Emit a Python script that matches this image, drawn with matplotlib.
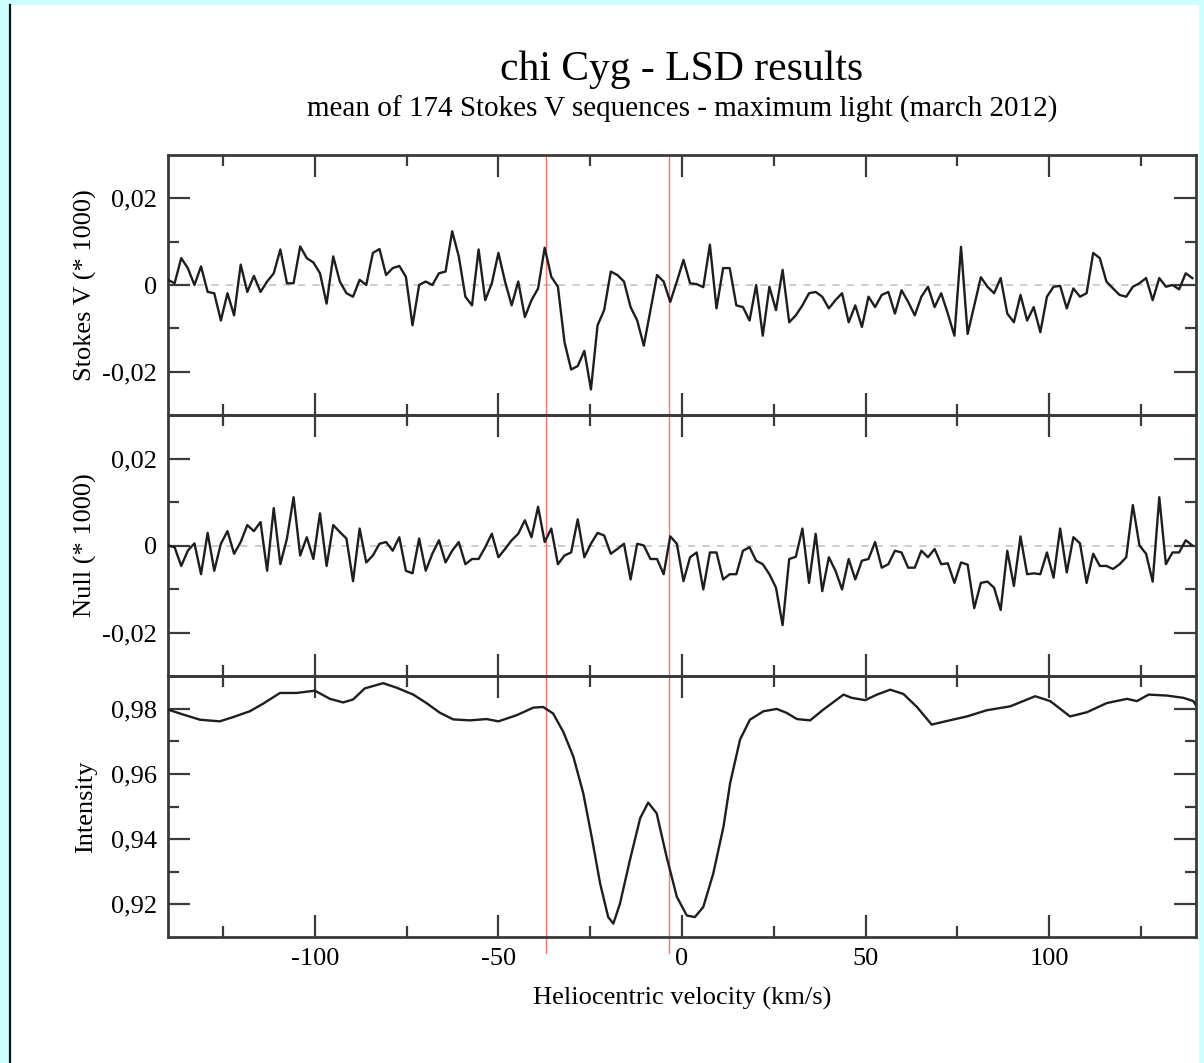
import numpy as np
import matplotlib
matplotlib.use('Agg')
import matplotlib.pyplot as plt
from matplotlib.patches import Rectangle
from matplotlib.lines import Line2D
from matplotlib.ticker import FixedLocator, FuncFormatter

plt.rcParams['font.family'] = ['Liberation Serif', 'DejaVu Serif']

# velocity grid of the LSD profiles (km/s)
vel = np.linspace(-140, 139, 156)

stokes_v = [
    0.0012, 0.0004, 0.0062, 0.0039, 0.0, 0.0043, -0.0016, -0.0019, -0.0082, -0.0019,
    -0.0070, 0.0047, -0.0016, 0.0021, -0.0016, 0.0008, 0.0027, 0.0082, 0.0004, 0.0004,
    0.0089, 0.0062, 0.0052, 0.0027, -0.0043, 0.0066, 0.0008, -0.0019, -0.0027, 0.0012,
    0.0, 0.0074, 0.0083, 0.0023, 0.0039, 0.0044, 0.0019, -0.0093, 0.0, 0.0008,
    0.0, 0.0027, 0.0031, 0.0124, 0.0066, -0.0027, -0.0047, 0.0082, -0.0035, 0.0004,
    0.0074, 0.0008, -0.0047, 0.0008, -0.0074, -0.0035, -0.0008, 0.0086,
    0.0019, -0.0004, -0.0132, -0.0195, -0.0187, -0.0152, -0.0241, -0.0093, -0.0058, 0.0031,
    0.0023, 0.0008, -0.0051, -0.0082, -0.0140, -0.0058, 0.0023, 0.0008, -0.0039, 0.0008,
    0.0058, 0.0004, 0.0002, -0.0005, 0.0093, -0.0054, 0.0039, 0.0039, -0.0047, -0.0051,
    -0.0082, 0.0, -0.0117, -0.0004, -0.0058, 0.0035, -0.0086, -0.0070, -0.0047, -0.0019,
    -0.0016, -0.0027, -0.0054, -0.0035, -0.0019, -0.0086, -0.0047, -0.0097, -0.0027, -0.0051,
    -0.0023, -0.0016, -0.0066, -0.0012, -0.0039, -0.0070, -0.0027, -0.0004, -0.0051, -0.0019,
    -0.0066, -0.0117, 0.0088, -0.0113, -0.0047, 0.0018, -0.0004, -0.0019, 0.0016, -0.0066,
    -0.0086, -0.0023, -0.0082, -0.0051, -0.0109, -0.0027, -0.0004, -0.0002, -0.0054, -0.0008,
    -0.0027, -0.0019, 0.0074, 0.0062, 0.0008, -0.0008, -0.0023, -0.0027, -0.0004, 0.0004,
    0.0016, -0.0035, 0.0016, -0.0004, 0.0, -0.0010, 0.0027, 0.0016,
]

null = [
    0.0, -0.0004, -0.0047, -0.0012, 0.0005, -0.0066, 0.0029, -0.0058, 0.0004, 0.0033,
    -0.0019, 0.0008, 0.0047, 0.0033, 0.0054, -0.0058, 0.0086, -0.0043, 0.0016, 0.0111,
    -0.0023, 0.0019, -0.0031, 0.0074, -0.0047, 0.0047, 0.0031, 0.0016, -0.0082, 0.0039,
    -0.0039, -0.0023, 0.0004, 0.0008, -0.0012, 0.0019, -0.0058, -0.0064, 0.0016, -0.0058,
    -0.0019, 0.0012, -0.0039, -0.0012, 0.0008, -0.0043, -0.0031, -0.0031, -0.0004, 0.0027,
    -0.0027, -0.0008, 0.0012, 0.0027, 0.0058, 0.0019, 0.0089, 0.0008,
    0.0039, -0.0043, -0.0023, -0.0016, 0.0060, -0.0027, 0.0004, 0.0029, 0.0023, -0.0019,
    -0.0008, 0.0004, -0.0078, 0.0004, 0.0, -0.0031, -0.0031, -0.0066, 0.0021, 0.0004,
    -0.0082, -0.0027, -0.0016, -0.0101, -0.0016, -0.0016, -0.0078, -0.0066, -0.0066, -0.0012,
    -0.0004, -0.0035, -0.0043, -0.0066, -0.0097, -0.0183, -0.0031, -0.0026, 0.0039, -0.0086,
    0.0027, -0.0105, -0.0027, -0.0058, -0.0101, -0.0031, -0.0078, -0.0035, -0.0031, 0.0008,
    -0.0051, -0.0043, -0.0012, -0.0016, -0.0051, -0.0051, -0.0012, -0.0027, -0.0008, -0.0043,
    -0.0041, -0.0086, -0.0039, -0.0044, -0.0144, -0.0086, -0.0083, -0.0097, -0.0148, -0.0012,
    -0.0093, 0.0021, -0.0066, -0.0064, -0.0066, -0.0016, -0.0074, 0.0039, -0.0062, 0.0019,
    0.0005, -0.0086, -0.0019, -0.0047, -0.0047, -0.0054, -0.0043, -0.0027, 0.0093, 0.0,
    -0.0019, -0.0083, 0.0111, -0.0043, -0.0016, -0.0016, 0.0012, 0.0,
]

vel_i = [-140, -135.9, -131.3, -125.9, -122, -117.7, -114.1, -109.5, -105, -100,
         -95.9, -92.3, -89.6, -86.4, -81.4, -77.7, -73.2, -69.6, -65.9, -62.3,
         -57.8, -53.2, -50, -45, -40.5, -37.8, -35.1, -32.3, -29.6, -26.9,
         -24.6, -22.3, -20.1, -18.7, -16.9, -14.2, -11.4, -9.2, -6.9, -4.2,
         -1.4, 1.3, 3.5, 5.8, 8.5, 11.3, 13.1, 15.8, 18.5, 22.2,
         25.8, 28.5, 31.3, 34.9, 38.5, 44, 46.2, 49.9, 53.1, 56.7,
         60.3, 64, 68, 72.1, 77.6, 83, 89.4, 96.2, 100.3, 105.7,
         110.3, 115.7, 121.2, 123.9, 127.1, 132.1, 136.6, 139.3, 140]
intensity = [0.9797, 0.9782, 0.9766, 0.9761, 0.9775, 0.9792, 0.9815, 0.9848, 0.9848, 0.9855,
             0.9830, 0.9819, 0.9828, 0.9862, 0.9878, 0.9864, 0.9843, 0.9817, 0.9787, 0.9767,
             0.9764, 0.9768, 0.9761, 0.9780, 0.9803, 0.9805, 0.9785, 0.9728, 0.9653, 0.9541,
             0.9407, 0.9264, 0.9161, 0.9141, 0.9202, 0.9335, 0.9464, 0.9512, 0.9479, 0.9346,
             0.9223, 0.9166, 0.9161, 0.9192, 0.9294, 0.9438, 0.9571, 0.9705, 0.9766, 0.9792,
             0.9799, 0.9787, 0.9768, 0.9764, 0.9797, 0.9843, 0.9833, 0.9826, 0.9843, 0.9858,
             0.9845, 0.9805, 0.9751, 0.9762, 0.9776, 0.9795, 0.9807, 0.9838, 0.9823, 0.9776,
             0.9789, 0.9817, 0.9830, 0.9823, 0.9843, 0.9840, 0.9833, 0.9823, 0.9810]

red_lines = [-37, -3.5]

fig = plt.figure(figsize=(12.04, 10.63), dpi=100, facecolor='#ccffff')
W, H = 1204.0, 1063.0
fig.patches.append(Rectangle((10 / W, 0), 1189 / W, 1 - 5 / H, transform=fig.transFigure,
                             facecolor='white', edgecolor='none', zorder=-10))
fig.lines.append(Line2D([9.5 / W, 9.5 / W], [0, 1 - 5 / H], transform=fig.transFigure,
                        color='#111111', lw=1.6, zorder=-9))

left = 168 / W
width = (1196 - 168) / W
tops = [155, 415, 676]
bots = [415, 676, 937]
axes = []
for t, b in zip(tops, bots):
    ax = fig.add_axes([left, 1 - b / H, width, (b - t) / H])
    axes.append(ax)

def comma(v, pos):
    if abs(v) < 1e-9:
        return '0'
    s = '%.2f' % v
    return s.replace('.', ',')

series = [stokes_v, null]
ylabels = ['Stokes V (* 1000)', 'Null (* 1000)', 'Intensity']
line_c = '#1e1e1e'
spine_c = '#3a3a3a'

for k, ax in enumerate(axes):
    ax.set_xlim(-140, 140)
    if k < 2:
        ax.axhline(0, color='#c8c8c8', lw=1.3, ls=(0, (4, 4)), zorder=1)
        ax.plot(vel, series[k], color=line_c, lw=1.7, zorder=3)
        ax.set_ylim(-0.03, 0.03)
        ax.yaxis.set_major_locator(FixedLocator([-0.02, 0, 0.02]))
        ax.yaxis.set_minor_locator(FixedLocator([-0.01, 0.01]))
    else:
        ax.plot(vel_i, intensity, color=line_c, lw=1.7, zorder=3)
        ax.set_ylim(0.91, 0.99)
        ax.yaxis.set_major_locator(FixedLocator([0.92, 0.94, 0.96, 0.98]))
        ax.yaxis.set_minor_locator(FixedLocator([0.93, 0.95, 0.97]))
    ax.yaxis.set_major_formatter(FuncFormatter(comma))
    ax.xaxis.set_major_locator(FixedLocator([-100, -50, 0, 50, 100]))
    ax.xaxis.set_minor_locator(FixedLocator([-125, -75, -25, 25, 75, 125]))
    ax.xaxis.set_major_formatter(FuncFormatter(lambda v, p: '%d' % v))
    ax.tick_params(which='both', direction='in', top=True, right=True, color=spine_c,
                   labelsize=19, pad=8)
    ax.tick_params(which='major', length=16, width=1.6)
    ax.tick_params(which='minor', length=8, width=1.6)
    if k < 2:
        ax.tick_params(labelbottom=False)
    for s in ax.spines.values():
        s.set_linewidth(2.0)
        s.set_color(spine_c)
    ax.set_ylabel(ylabels[k], fontsize=19)
    ax.yaxis.set_label_coords(-0.069, 0.5)
    ax.patch.set_alpha(0)
    for r in red_lines:
        ax.axvline(r, color='#ff7070', lw=1.0, zorder=2)

for r in red_lines:
    axes[2].plot([r, r], [0.91, 0.905], color='#ff7070', lw=1.0, clip_on=False)

axes[2].set_xlabel('Heliocentric velocity (km/s)', fontsize=19, labelpad=12)

fig.text(682 / W, 1 - 80 / H, 'chi Cyg - LSD results', fontsize=30, ha='center', va='baseline')
fig.text(682 / W, 1 - 117 / H, 'mean of 174 Stokes V sequences - maximum light (march 2012)',
         fontsize=21, ha='center', va='baseline')

fig.savefig('out.png', dpi=100, facecolor=fig.get_facecolor())
